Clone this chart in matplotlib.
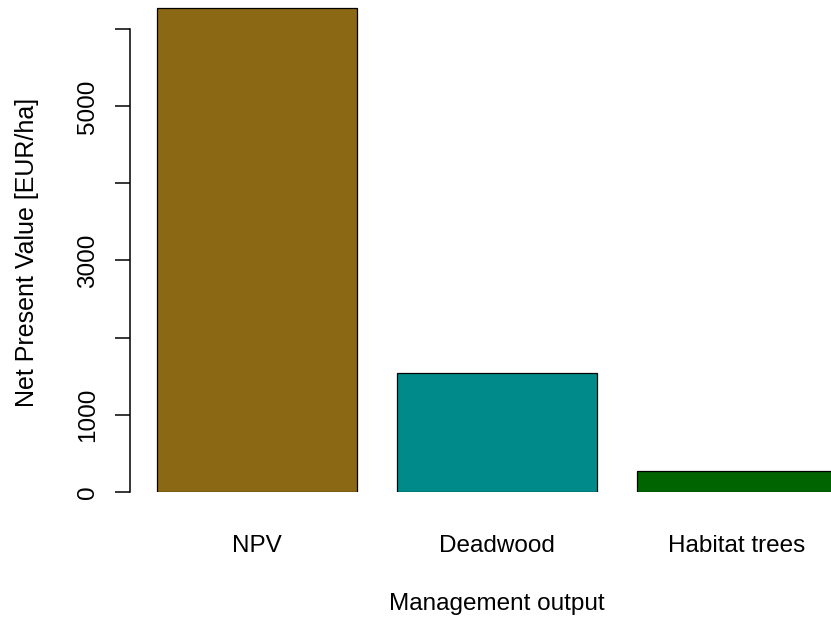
import matplotlib
matplotlib.use("Agg")
import matplotlib.pyplot as plt

# values
categories = ["NPV", "Deadwood", "Habitat trees"]
npv_values = [6270, 1535, 272]
bar_colors = ["#8B6914", "#008B8B", "#006400"]
y_ticks = [0, 1000, 2000, 3000, 4000, 5000, 6000]
y_tick_labels = ["0", "1000", "", "3000", "", "5000", ""]

plt.rcParams['font.family'] = ['Liberation Sans', 'DejaVu Sans']

W, H = 831, 618
fig = plt.figure(figsize=(W / 100, H / 100), dpi=100)

# R barplot layout: width 1, space 0.2 -> 200 px per unit, x=0 at px 117
px_per_unit = 200.0
x0_px = 117.0
ax_left_px = 130.0
y0_px = 491.7
px_per_1000 = 77.07

ax = fig.add_axes([ax_left_px / W, (H - y0_px) / H, (W - ax_left_px) / W, y0_px / H])
ax.set_xlim((ax_left_px - x0_px) / px_per_unit, (W - x0_px) / px_per_unit)
ax.set_ylim(0, y0_px / px_per_1000 * 1000)

centers = [0.7 + 1.2 * i for i in range(len(categories))]
ax.bar(centers, npv_values, width=1.0, color=bar_colors, edgecolor="black", linewidth=0.9)

for s in ["top", "right", "bottom"]:
    ax.spines[s].set_visible(False)
ax.spines["left"].set_bounds(0, 6000)
ax.spines["left"].set_linewidth(1.1)

ax.set_yticks(y_ticks)
ax.set_yticklabels(y_tick_labels, rotation=90, va="center", fontsize=17.5)
ax.tick_params(axis="y", length=11, width=1.1, pad=11)

ax.set_xticks(centers)
ax.set_xticklabels(categories, fontsize=17.5)
ax.tick_params(axis="x", length=0, pad=31)

fig.text(27 / W, 1 - 252 / H, "Net Present Value [EUR/ha]", rotation=90,
         ha="center", va="center", fontsize=18)
fig.text(497 / W, 1 - 604 / H, "Management output", ha="center", va="center", fontsize=17.5)

fig.savefig("out.png", dpi=100)
